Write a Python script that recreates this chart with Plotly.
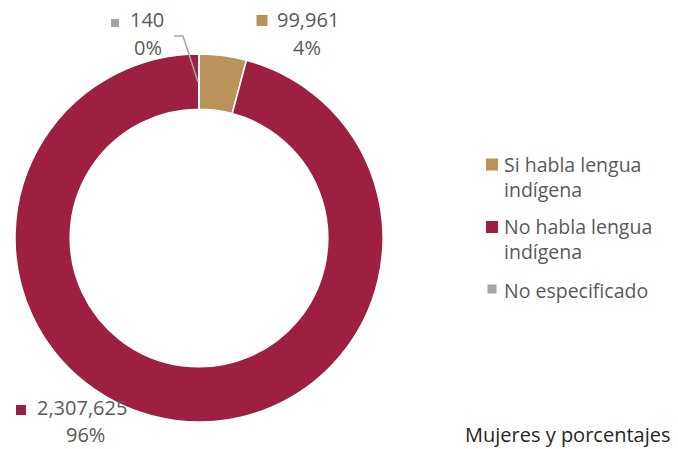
import plotly.graph_objects as go

# Mujeres según condición de habla de lengua indígena
categories = ["Si habla lengua indígena", "No habla lengua indígena", "No especificado"]
legend_text = ["Si habla lengua<br>indígena", "No habla lengua<br>indígena", "No especificado"]
values = [99961, 2307625, 140]
colors = ["#B9935A", "#9D1F42", "#A5A5A5"]

W, H = 678, 449
FONT = "Open Sans"
TEXT_GRAY = "#595959"

total = sum(values)
pcts = [round(v / total * 100) for v in values]


def px(x, y):
    """Convert pixel position (from top-left) to paper coordinates."""
    return x / W, 1 - y / H


fig = go.Figure(
    go.Pie(
        labels=categories,
        values=values,
        marker=dict(colors=colors, line=dict(color="white", width=1.5)),
        hole=0.70,
        sort=False,
        direction="clockwise",
        rotation=0,
        textinfo="none",
        hoverinfo="label+value+percent",
        showlegend=False,
        domain=dict(x=[14 / W, 384 / W], y=[27 / H, 395 / H]),
    )
)

annotations = []
shapes = []


def square(cx, cy, size, color):
    x0, y0 = px(cx - size / 2, cy - size / 2)
    x1, y1 = px(cx + size / 2, cy + size / 2)
    shapes.append(dict(type="rect", xref="paper", yref="paper",
                       x0=x0, y0=y1, x1=x1, y1=y0,
                       fillcolor=color, line=dict(width=0)))


def text(x, y, s, size, color=TEXT_GRAY, xanchor="left"):
    ax, ay = px(x, y)
    annotations.append(dict(x=ax, y=ay, xref="paper", yref="paper",
                            xanchor=xanchor, yanchor="middle", text=s,
                            showarrow=False, align="left",
                            font=dict(family=FONT, size=size, color=color)))


# Etiquetas de datos: marcador, valor y porcentaje
label_marker = [(262, 20.5, 11), (21, 410, 10), (115, 23, 8)]
label_value_x = [275, 35, 128]
label_value_y = [20, 407, 20]
label_pct = [(307, 47), (85, 434), (148, 47)]
for i, (v, p) in enumerate(zip(values, pcts)):
    mx, my, ms = label_marker[i]
    square(mx, my, ms, colors[i])
    text(label_value_x[i], label_value_y[i], f"{v:,}", 20)
    text(label_pct[i][0], label_pct[i][1], f"{p}%", 20, xanchor="center")

# Leyenda
legend_marker = [(492, 164.5, 12), (492, 227, 12), (492, 289, 9)]
legend_text_y = [177, 239, 290]
for i, lab in enumerate(legend_text):
    mx, my, ms = legend_marker[i]
    square(mx, my, ms, colors[i])
    text(502, legend_text_y[i], lab, 19.5)

# Nota de unidades
text(672, 434, "Mujeres y porcentajes", 20, color="#262626", xanchor="right")

# Línea guía para la categoría "No especificado"
lx0, ly0 = px(174, 36)
lx1, ly1 = px(183, 36)
lx2, ly2 = px(198, 82)
shapes.append(dict(
    type="path", xref="paper", yref="paper",
    path=f"M {lx0},{ly0} L {lx1},{ly1} L {lx2},{ly2}",
    line=dict(color="#A5A5A5", width=1.5),
))

fig.update_layout(
    width=W, height=H,
    margin=dict(l=0, r=0, t=0, b=0),
    paper_bgcolor="white", plot_bgcolor="white",
    annotations=annotations,
    shapes=shapes,
)

fig.write_html("out.html")
